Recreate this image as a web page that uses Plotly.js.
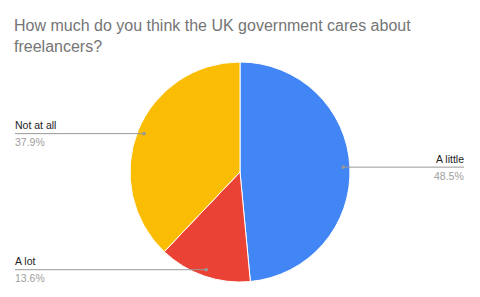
<!DOCTYPE html>
<html>
<head>
<meta charset="utf-8">
<script src="https://cdn.plot.ly/plotly-3.0.1.min.js"></script>
<style>html,body{margin:0;padding:0;background:#fff;}#chart{width:480px;height:297px;}</style>
</head>
<body>
<div id="chart"></div>
<script>
const titleText = 'How much do you think the UK government cares about<br>freelancers?';
const categories = ['A little', 'A lot', 'Not at all'];
const values = [48.5, 13.6, 37.9];
const percentLabels = ['48.5%', '13.6%', '37.9%'];
const colors = ['#4285F4', '#EA4335', '#FBBC04'];

const W = 480, H = 297;
const cx = 240, cy = 172, R = 110;
const leftX = 15, rightX = 464;

const total = values.reduce((a, b) => a + b, 0);
const shapes = [];
const annotations = [];
let cum = 0;
values.forEach((v, i) => {
  const mid = (cum + v / 2) / total;
  cum += v;
  const th = 2 * Math.PI * mid;
  const dx = cx + 0.94 * R * Math.sin(th);
  const dy = cy - 0.94 * R * Math.cos(th);
  const right = Math.sin(th) > 0;
  const endX = right ? rightX : leftX;
  const textX = right ? rightX + 2 : leftX - 2;
  const px = x => x / W, py = y => 1 - y / H;
  shapes.push({type: 'line', xref: 'paper', yref: 'paper',
    x0: px(dx), y0: py(dy), x1: px(endX), y1: py(dy),
    line: {color: '#999999', width: 1}});
  shapes.push({type: 'circle', xref: 'paper', yref: 'paper',
    xsizemode: 'pixel', ysizemode: 'pixel', xanchor: px(dx), yanchor: py(dy),
    x0: -1.8, x1: 1.8, y0: -1.8, y1: 1.8,
    fillcolor: '#999999', line: {width: 0}});
  annotations.push({xref: 'paper', yref: 'paper', x: px(textX), y: py(dy - 0.5),
    xanchor: right ? 'right' : 'left', yanchor: 'bottom', showarrow: false,
    text: categories[i], font: {family: 'Liberation Sans, Arial, sans-serif', size: 10.5, color: '#222222'}});
  annotations.push({xref: 'paper', yref: 'paper', x: px(textX), y: py(dy + 0.5),
    xanchor: right ? 'right' : 'left', yanchor: 'top', showarrow: false,
    text: percentLabels[i], font: {family: 'Liberation Sans, Arial, sans-serif', size: 10.5, color: '#9E9E9E'}});
});

const data = [{
  type: 'pie',
  labels: categories,
  values: values,
  sort: false,
  direction: 'clockwise',
  rotation: 0,
  textinfo: 'none',
  hoverinfo: 'none',
  marker: {colors: colors, line: {color: '#ffffff', width: 1}},
  domain: {x: [(cx - R) / W, (cx + R) / W], y: [1 - (cy + R) / H, 1 - (cy - R) / H]},
  automargin: false
}];

const layout = {
  width: W, height: H,
  margin: {l: 0, r: 0, t: 0, b: 0},
  paper_bgcolor: '#ffffff',
  showlegend: false,
  title: {text: titleText, x: 14 / W, xanchor: 'left', xref: 'paper',
    y: 1 - 31 / H, yanchor: 'top', yref: 'container',
    font: {family: 'Liberation Sans, Arial, sans-serif', size: 16, color: '#757575'}},
  shapes: shapes,
  annotations: annotations
};

Plotly.newPlot('chart', data, layout, {displayModeBar: false, staticPlot: true});
</script>
</body>
</html>
